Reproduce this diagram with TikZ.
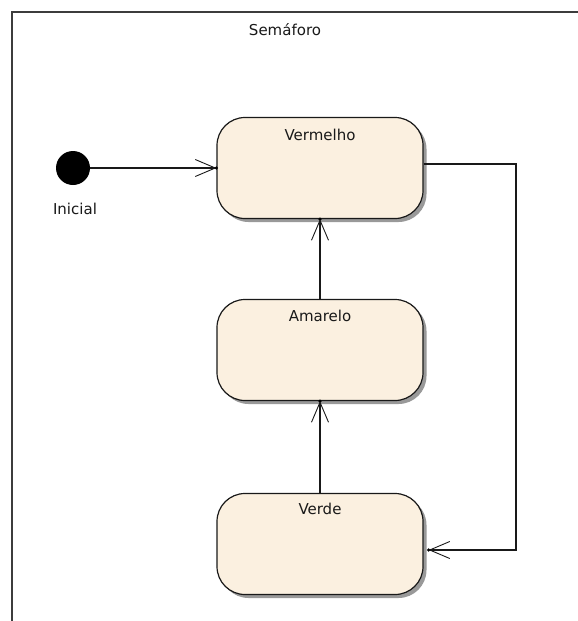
\documentclass[tikz,border=0pt]{standalone}
\usepackage{fontspec}
\setmainfont{DejaVu Sans}
\usetikzlibrary{arrows.meta,shadows}
\definecolor{stbg}{RGB}{251,240,224}
\definecolor{frm}{RGB}{60,60,60}
\begin{document}
\begin{tikzpicture}[x=1pt,y=-1pt,
  every node/.style={font=\fontsize{15}{17}\selectfont, text=black!90},
  statebox/.style={draw=black!90, line width=1.2pt, fill=stbg, rounded corners=28pt,
    minimum width=206pt, minimum height=101pt, inner sep=0pt,
    drop shadow={shadow xshift=3.5pt, shadow yshift=-3.5pt, fill=black!40, opacity=1}},
  conn/.style={draw=black!90, line width=1.2pt,
    -{Straight Barb[length=20pt,width=17pt,line width=0.9pt]}},
  tipdot/.style={fill=black}]
\useasboundingbox (0,0) rectangle (578,621);
\fill[white] (0,0) rectangle (578,621);
\coordinate (fbl) at (12,621);
\coordinate (ftl) at (12,12);
\coordinate (ftr) at (578,12);
\draw[frm, line width=2pt] (fbl) -- (ftl) -- (ftr);
\node (title) at (285,30) {Semáforo};

\node[circle, fill=black, minimum size=34pt, inner sep=0pt] (ini) at (73,168) {};
\node (inil) at (75,209) {Inicial};

\node[statebox] (vm) at (320,168) {};
\node[statebox] (am) at (320,350) {};
\node[statebox] (vd) at (320,544) {};
\node (vmt) at ([yshift=-18pt]vm.north) {Vermelho};
\node (amt) at ([yshift=-17pt]am.north) {Amarelo};
\node (vdt) at ([yshift=-16pt]vd.north) {Verde};

\draw[conn] (ini) -- (vm.west);
\fill[tipdot] (vm.west) circle (1.8pt);
\draw[conn] (am.north) -- (vm.south);
\fill[tipdot] (vm.south) circle (1.8pt);
\draw[conn] (vd.north) -- (am.south);
\fill[tipdot] (am.south) circle (1.8pt);
\coordinate (vmr) at ([yshift=4pt]vm.east);
\coordinate (vdr) at ([yshift=-6pt,xshift=5pt]vd.east);
\coordinate (corner) at (516,164);
\draw[conn] (vmr) -- (corner) |- (vdr);
\fill[tipdot] (vdr) circle (1.8pt);
\end{tikzpicture}
\end{document}
